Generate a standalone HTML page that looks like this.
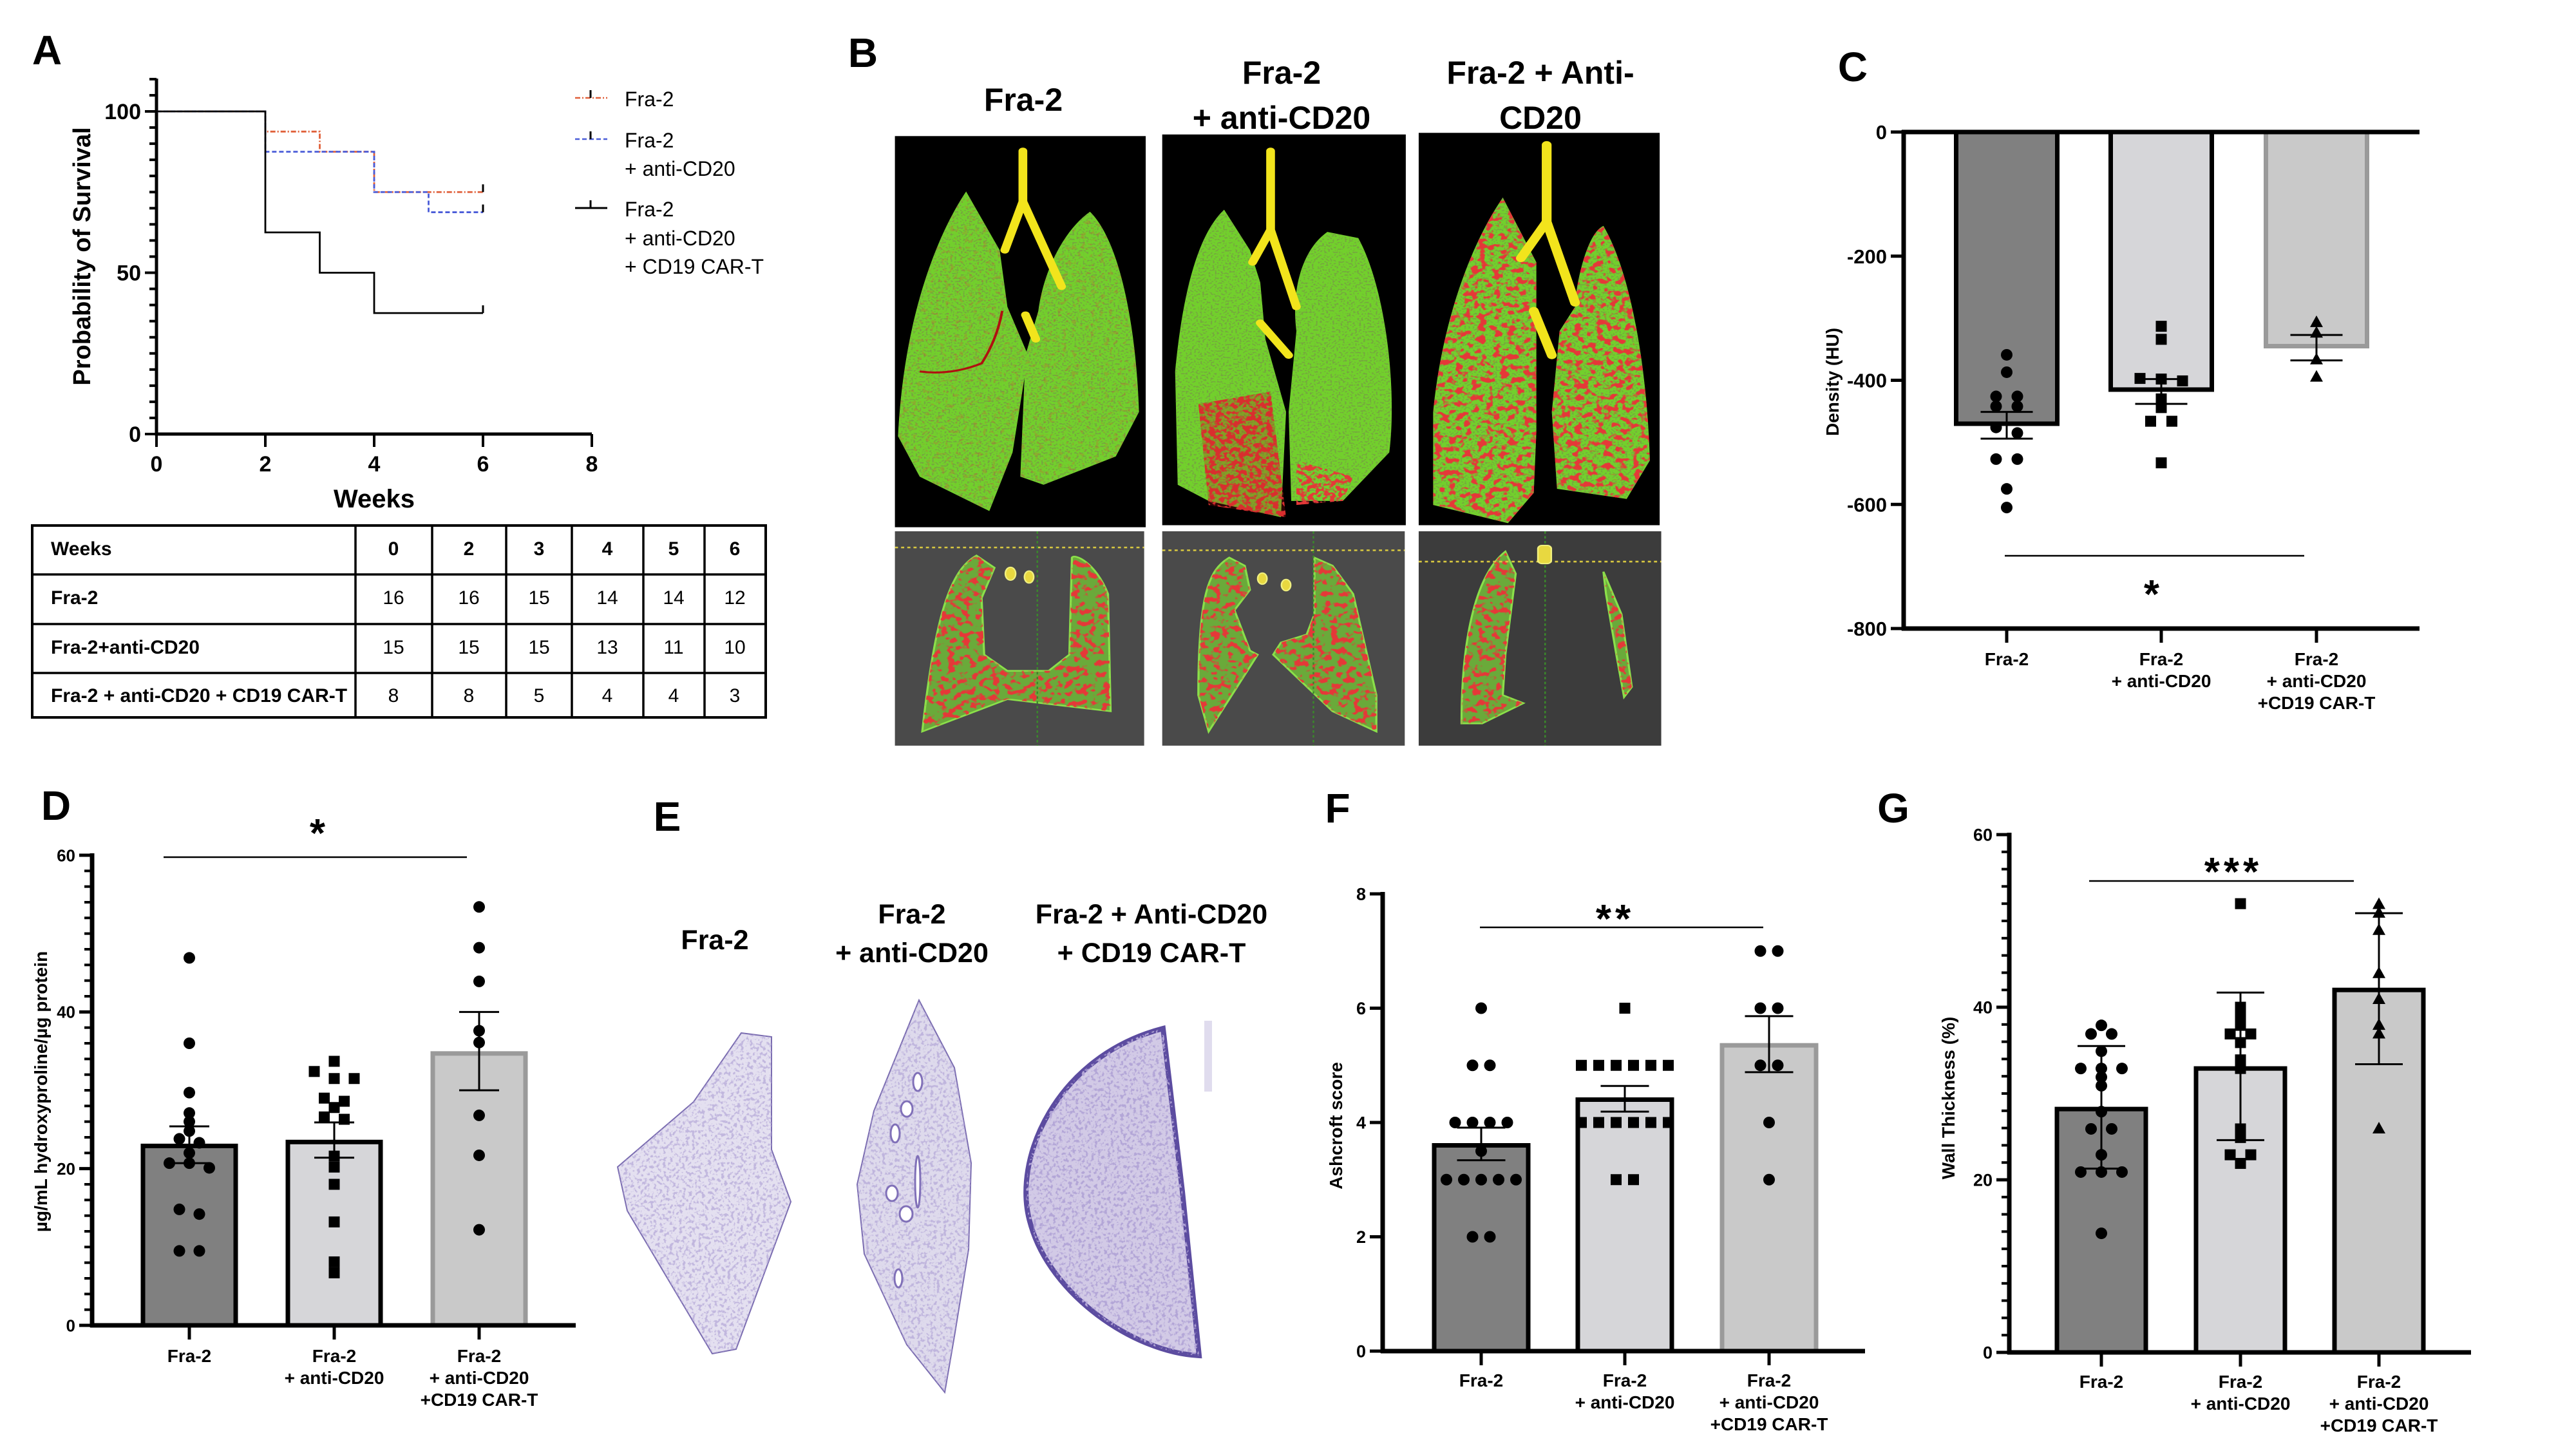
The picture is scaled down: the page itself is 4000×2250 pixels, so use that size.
<!DOCTYPE html>
<html><head><meta charset="utf-8">
<style>
html,body{margin:0;padding:0;background:#fff;}
svg{display:block;}
text{font-family:"Liberation Sans",sans-serif;}
.b{font-weight:bold;}
</style></head>
<body>
<svg id="fig" xmlns="http://www.w3.org/2000/svg" width="4000" height="2250" viewBox="0 0 4000 2250">
<defs>
<filter id="redspeck" x="-5%" y="-5%" width="110%" height="110%">
<feTurbulence type="fractalNoise" baseFrequency="0.11" numOctaves="2" seed="3" result="n"/>
<feColorMatrix in="n" type="matrix" values="0 0 0 0 0.78  0 0 0 0 0.04  0 0 0 0 0.04  9 0 0 0 -5.2" result="r"/>
<feComposite in="r" in2="SourceGraphic" operator="in"/>
</filter>
<filter id="redheavy" x="-5%" y="-5%" width="110%" height="110%">
<feTurbulence type="fractalNoise" baseFrequency="0.09" numOctaves="2" seed="7" result="n"/>
<feColorMatrix in="n" type="matrix" values="0 0 0 0 0.78  0 0 0 0 0.04  0 0 0 0 0.04  9 0 0 0 -4.1" result="r"/>
<feComposite in="r" in2="SourceGraphic" operator="in"/>
</filter>
<filter id="redmid" x="-5%" y="-5%" width="110%" height="110%">
<feTurbulence type="fractalNoise" baseFrequency="0.07" numOctaves="2" seed="11" result="n"/>
<feColorMatrix in="n" type="matrix" values="0 0 0 0 0.78  0 0 0 0 0.04  0 0 0 0 0.04  9 0 0 0 -4.6" result="r"/>
<feComposite in="r" in2="SourceGraphic" operator="in"/>
</filter>
<filter id="greenspeck" x="-5%" y="-5%" width="110%" height="110%">
<feTurbulence type="fractalNoise" baseFrequency="0.25" numOctaves="1" seed="5" result="n"/>
<feColorMatrix in="n" type="matrix" values="0 0 0 0 0.18  0 0 0 0 0.38  0 0 0 0 0.05  8 0 0 0 -4.2" result="r"/>
<feComposite in="r" in2="SourceGraphic" operator="in"/>
</filter>
<filter id="histo" x="-5%" y="-5%" width="110%" height="110%">
<feTurbulence type="fractalNoise" baseFrequency="0.2" numOctaves="2" seed="9" result="n"/>
<feColorMatrix in="n" type="matrix" values="0 0 0 0 0.45  0 0 0 0 0.38  0 0 0 0 0.68  7 0 0 0 -3.6" result="r"/>
<feComposite in="r" in2="SourceGraphic" operator="in"/>
</filter>
</defs>

<text x="73" y="100" font-size="64" class="b" text-anchor="middle">A</text>
<text x="1340" y="104" font-size="64" class="b" text-anchor="middle">B</text>
<text x="2877" y="126" font-size="64" class="b" text-anchor="middle">C</text>
<text x="87" y="1273" font-size="64" class="b" text-anchor="middle">D</text>
<text x="1036" y="1290" font-size="64" class="b" text-anchor="middle">E</text>
<text x="2077" y="1277" font-size="64" class="b" text-anchor="middle">F</text>
<text x="2940" y="1277" font-size="64" class="b" text-anchor="middle">G</text>

<text x="1589" y="172" font-size="50" class="b" text-anchor="middle">Fra-2</text>
<text x="1990" y="130" font-size="50" class="b" text-anchor="middle">Fra-2</text>
<text x="1990" y="200" font-size="50" class="b" text-anchor="middle">+ anti-CD20</text>
<text x="2392" y="130" font-size="50" class="b" text-anchor="middle">Fra-2 + Anti-</text>
<text x="2392" y="200" font-size="50" class="b" text-anchor="middle">CD20</text>

<g transform="translate(1380,200) scale(0.8013,0.6281)">
  <rect x="12" y="18" width="486" height="967" fill="#000"/>
  <rect x="530" y="14" width="472" height="966" fill="#000"/>
  <rect x="1027" y="10" width="467" height="970" fill="#000"/>
  <g>
    <path d="M150,155 C100,250 30,450 18,760 L60,860 L195,945 L240,800 L270,560 L230,440 L215,300 Z M390,205 C340,250 300,350 290,450 L265,560 L255,860 L300,880 L440,810 L485,700 C480,500 450,280 390,205 Z" fill="#72d02c"/>
    <path d="M150,155 C100,250 30,450 18,760 L60,860 L195,945 L240,800 L270,560 L230,440 L215,300 Z M390,205 C340,250 300,350 290,450 L265,560 L255,860 L300,880 L440,810 L485,700 C480,500 450,280 390,205 Z" fill="#000" filter="url(#greenspeck)"/>
    <path d="M150,155 C100,250 30,450 18,760 L60,860 L195,945 L240,800 L270,560 L230,440 L215,300 Z M390,205 C340,250 300,350 290,450 L265,560 L255,860 L300,880 L440,810 L485,700 C480,500 450,280 390,205 Z" fill="#000" filter="url(#redspeck)" opacity="0.22"/>
    <path d="M260,55 L260,180 L225,300 M260,180 L335,390 M265,460 L285,520" stroke="#f2e41c" stroke-width="17" fill="none" stroke-linecap="round"/>
    <path d="M60,600 Q120,610 180,580 Q210,520 220,450" stroke="#b01010" stroke-width="5" fill="none"/>
  </g>
  <g>
    <path d="M650,200 C600,260 570,400 555,600 L560,880 L620,920 L760,960 L770,700 L730,520 L720,380 L700,300 Z M850,255 C800,300 780,400 790,500 L775,700 L780,920 L880,920 L970,800 C985,650 965,400 910,270 Z" fill="#72d02c"/>
    <path d="M650,200 C600,260 570,400 555,600 L560,880 L620,920 L760,960 L770,700 L730,520 L720,380 L700,300 Z M850,255 C800,300 780,400 790,500 L775,700 L780,920 L880,920 L970,800 C985,650 965,400 910,270 Z" fill="#000" filter="url(#greenspeck)"/>
    <path d="M600,680 L740,650 L770,960 L620,930 Z M790,820 L900,860 L880,920 L790,930 Z" fill="#000" filter="url(#redheavy)"/>
    <path d="M600,680 L740,650 L770,960 L620,930 Z" fill="#b81010" opacity="0.25"/>
    <path d="M740,55 L740,250 L705,330 M740,250 L790,440 M720,480 L775,560" stroke="#f2e41c" stroke-width="17" fill="none" stroke-linecap="round"/>
  </g>
  <g>
    <path d="M1190,170 C1120,300 1070,500 1055,700 L1055,930 L1200,975 L1250,900 L1255,750 L1255,330 Z M1385,240 C1350,260 1330,400 1330,440 L1300,500 L1285,700 L1295,890 L1430,915 L1475,820 C1470,600 1440,360 1385,240 Z" fill="#72d02c"/>
    <path d="M1190,170 C1120,300 1070,500 1055,700 L1055,930 L1200,975 L1250,900 L1255,750 L1255,330 Z M1385,240 C1350,260 1330,400 1330,440 L1300,500 L1285,700 L1295,890 L1430,915 L1475,820 C1470,600 1440,360 1385,240 Z" fill="#000" filter="url(#greenspeck)"/>
    <path d="M1190,170 C1120,300 1070,500 1055,700 L1055,930 L1200,975 L1250,900 L1255,750 L1255,330 Z M1385,240 C1350,260 1330,400 1330,440 L1300,500 L1285,700 L1295,890 L1430,915 L1475,820 C1470,600 1440,360 1385,240 Z" fill="#000" filter="url(#redmid)"/>
    <path d="M1275,40 L1275,230 L1225,320 M1275,230 L1330,430 M1250,450 L1285,560" stroke="#f2e41c" stroke-width="19" fill="none" stroke-linecap="round"/>
  </g>
  <rect x="12" y="995" width="483" height="530" fill="#4a4a4a"/>
  <rect x="530" y="995" width="470" height="530" fill="#4a4a4a"/>
  <rect x="1027" y="995" width="470" height="530" fill="#3c3c3c"/>
  <g fill="#6aaa3a" stroke="#8be04a" stroke-width="4">
    <path d="M170,1055 C120,1090 90,1200 65,1490 L230,1410 L430,1440 L425,1150 C400,1070 360,1050 355,1060 L350,1300 L310,1340 L230,1340 L185,1300 L180,1160 L205,1085 Z"/>
    <path d="M660,1060 C620,1090 600,1150 600,1400 L620,1490 L715,1300 L700,1290 L670,1190 L700,1140 L690,1080 Z"/>
    <path d="M825,1060 L860,1080 L900,1150 L945,1400 L945,1490 L860,1440 L745,1300 L760,1270 L810,1250 L825,1200 Z"/>
    <path d="M1195,1045 C1140,1100 1110,1250 1110,1470 L1150,1470 L1230,1420 L1190,1400 L1195,1300 L1215,1100 Z"/>
    <path d="M1385,1095 L1420,1200 L1440,1380 L1425,1405 L1410,1300 L1390,1150 Z"/>
  </g>
  <g fill="#000" filter="url(#redmid)">
    <path d="M170,1055 C120,1090 90,1200 65,1490 L230,1410 L430,1440 L425,1150 C400,1070 360,1050 355,1060 L350,1300 L310,1340 L230,1340 L185,1300 L180,1160 L205,1085 Z"/>
    <path d="M660,1060 C620,1090 600,1150 600,1400 L620,1490 L715,1300 L700,1290 L670,1190 L700,1140 L690,1080 Z"/>
    <path d="M825,1060 L860,1080 L900,1150 L945,1400 L945,1490 L860,1440 L745,1300 L760,1270 L810,1250 L825,1200 Z"/>
    <path d="M1195,1045 C1140,1100 1110,1250 1110,1470 L1150,1470 L1230,1420 L1190,1400 L1195,1300 L1215,1100 Z"/>
    <path d="M1385,1095 L1420,1200 L1440,1380 L1425,1405 L1410,1300 L1390,1150 Z"/>
  </g>
  <g stroke="#d8c840" stroke-width="4" stroke-dasharray="6,6" fill="none">
    <line x1="12" y1="1035" x2="495" y2="1035"/>
    <line x1="530" y1="1042" x2="1000" y2="1042"/>
    <line x1="1027" y1="1070" x2="1497" y2="1070"/>
  </g>
  <g stroke="#3a8a2a" stroke-width="3" stroke-dasharray="6,6" fill="none">
    <line x1="288" y1="995" x2="288" y2="1525"/>
    <line x1="823" y1="995" x2="823" y2="1525"/>
    <line x1="1272" y1="995" x2="1272" y2="1525"/>
  </g>
  <g fill="#e8d840" stroke="#f0f080" stroke-width="3">
    <ellipse cx="236" cy="1100" rx="10" ry="16"/><ellipse cx="272" cy="1108" rx="9" ry="15"/>
    <ellipse cx="724" cy="1112" rx="9" ry="14"/><ellipse cx="770" cy="1128" rx="9" ry="14"/>
    <rect x="1258" y="1030" width="26" height="45" rx="8"/>
  </g>
</g>

<text x="1110" y="1474" font-size="43" class="b" text-anchor="middle">Fra-2</text>
<text x="1416" y="1434" font-size="43" class="b" text-anchor="middle">Fra-2</text>
<text x="1416" y="1494" font-size="43" class="b" text-anchor="middle">+ anti-CD20</text>
<text x="1788" y="1434" font-size="43" class="b" text-anchor="middle">Fra-2 + Anti-CD20</text>
<text x="1788" y="1494" font-size="43" class="b" text-anchor="middle">+ CD19 CAR-T</text>

<g>
  <path d="M959,1812 L1077,1711 L1151,1604 L1198,1610 L1198,1785 L1228,1866 L1143,2095 L1106,2102 L974,1880 Z" fill="#e4e0f0" stroke="#7a6cb0" stroke-width="2"/>
  <path d="M959,1812 L1077,1711 L1151,1604 L1198,1610 L1198,1785 L1228,1866 L1143,2095 L1106,2102 L974,1880 Z" fill="#000" filter="url(#histo)" opacity="0.7"/>
  <path d="M1427,1553 L1482,1658 L1508,1806 L1504,1940 L1482,2075 L1467,2162 L1408,2088 L1342,1947 L1331,1839 L1357,1725 Z" fill="#dedaec" stroke="#7a6cb0" stroke-width="2"/>
  <path d="M1427,1553 L1482,1658 L1508,1806 L1504,1940 L1482,2075 L1467,2162 L1408,2088 L1342,1947 L1331,1839 L1357,1725 Z" fill="#000" filter="url(#histo)" opacity="0.7"/>
  <g fill="#fff" stroke="#8070b8" stroke-width="3">
    <ellipse cx="1425" cy="1680" rx="7" ry="14"/><ellipse cx="1408" cy="1722" rx="9" ry="12"/>
    <ellipse cx="1390" cy="1760" rx="7" ry="14"/><ellipse cx="1385" cy="1853" rx="9" ry="12"/>
    <ellipse cx="1407" cy="1885" rx="10" ry="12"/><ellipse cx="1425" cy="1835" rx="4" ry="40"/>
    <ellipse cx="1395" cy="1985" rx="6" ry="14"/>
  </g>
  <path d="M1806,1597 C1640,1640 1570,1800 1600,1900 C1630,2010 1760,2100 1862,2105 L1836,1850 Z" fill="#d2cae6" stroke="#5c4ca0" stroke-width="8"/>
  <path d="M1806,1597 C1640,1640 1570,1800 1600,1900 C1630,2010 1760,2100 1862,2105 L1836,1850 Z" fill="#000" filter="url(#histo)"/>
  <rect x="1870" y="1585" width="12" height="110" fill="#e0dcee"/>
</g>

<g font-size="30">
  <rect x="50" y="816" width="1139" height="298" fill="none" stroke="#000" stroke-width="4"/>
  <g stroke="#000" stroke-width="3.5">
    <line x1="50" y1="892" x2="1189" y2="892"/><line x1="50" y1="969" x2="1189" y2="969"/><line x1="50" y1="1045" x2="1189" y2="1045"/>
    <line x1="552" y1="816" x2="552" y2="1114"/><line x1="671" y1="816" x2="671" y2="1114"/><line x1="786" y1="816" x2="786" y2="1114"/>
    <line x1="888" y1="816" x2="888" y2="1114"/><line x1="999" y1="816" x2="999" y2="1114"/><line x1="1094" y1="816" x2="1094" y2="1114"/>
  </g>
  <text x="79" y="862" class="b">Weeks</text>
  <text x="79" y="938" class="b">Fra-2</text>
  <text x="79" y="1015" class="b">Fra-2+anti-CD20</text>
  <text x="79" y="1090" class="b">Fra-2 + anti-CD20 + CD19 CAR-T</text>
  <g class="b" text-anchor="middle">
    <text x="611" y="862">0</text><text x="728" y="862">2</text><text x="837" y="862">3</text><text x="943" y="862">4</text><text x="1046" y="862">5</text><text x="1141" y="862">6</text>
  </g>
  <g text-anchor="middle">
    <text x="611" y="938">16</text><text x="728" y="938">16</text><text x="837" y="938">15</text><text x="943" y="938">14</text><text x="1046" y="938">14</text><text x="1141" y="938">12</text>
    <text x="611" y="1015">15</text><text x="728" y="1015">15</text><text x="837" y="1015">15</text><text x="943" y="1015">13</text><text x="1046" y="1015">11</text><text x="1141" y="1015">10</text>
    <text x="611" y="1090">8</text><text x="728" y="1090">8</text><text x="837" y="1090">5</text><text x="943" y="1090">4</text><text x="1046" y="1090">4</text><text x="1141" y="1090">3</text>
  </g>
</g>

<g font-size="32">
  <g>
    <line x1="893" y1="152" x2="943" y2="152" stroke="#e0603a" stroke-width="2.5" stroke-dasharray="8,3,2,3"/>
    <line x1="917" y1="140" x2="917" y2="152" stroke="#000" stroke-width="3"/>
    <text x="970" y="165">Fra-2</text>
  </g>
  <g>
    <line x1="893" y1="216" x2="943" y2="216" stroke="#4a5cd8" stroke-width="2.5" stroke-dasharray="7,4"/>
    <line x1="917" y1="204" x2="917" y2="216" stroke="#000" stroke-width="3"/>
    <text x="970" y="229">Fra-2</text><text x="970" y="273">+ anti-CD20</text>
  </g>
  <g>
    <line x1="893" y1="323" x2="943" y2="323" stroke="#000" stroke-width="3"/>
    <line x1="917" y1="311" x2="917" y2="323" stroke="#000" stroke-width="3"/>
    <text x="970" y="336">Fra-2</text><text x="970" y="381">+ anti-CD20</text><text x="970" y="425">+ CD19 CAR-T</text>
  </g>
</g>

<g id="chartA"></g>
<g id="chartC"></g>
<g id="chartD"></g>
<g id="chartF"></g>
<g id="chartG"></g>
</svg>

<script>
const survTimesFra2 = [0, 2, 3, 4, 6];
const survProbFra2  = [100, 93.75, 87.5, 75, 75];
const survTimesAnti = [0, 2, 4, 5, 6];
const survProbAnti  = [100, 87.5, 75, 68.75, 68.75];
const survTimesCar  = [0, 2, 3, 4, 6];
const survProbCar   = [100, 62.5, 50, 37.5, 37.5];
const survXTicks = [0, 2, 4, 6, 8];
const survYTicks = [0, 50, 100];

const cCategories = [["Fra-2"], ["Fra-2", "+ anti-CD20"], ["Fra-2", "+ anti-CD20", "+CD19 CAR-T"]];
const cMeans = [-470, -415, -345];
const cErrLow = [-494, -438, -368];
const cErrHigh = [-451, -398, -327];
const cPtsFra2 = [-359, -387, -426, -426, -442, -442, -476, -485, -527, -527, -575, -605];
const cPtsAnti = [-313, -334, -397, -401, -398, -430, -444, -466, -466, -533];
const cPtsCar = [-307, -324, -367, -395];
const cTicks = [0, -200, -400, -600, -800];

const dCategories = [["Fra-2"], ["Fra-2", "+ anti-CD20"], ["Fra-2", "+ anti-CD20", "+CD19 CAR-T"]];
const dMeans = [22.9, 23.4, 34.7];
const dErrLow = [20.7, 21.4, 30.0];
const dErrHigh = [25.4, 25.9, 40.0];
const dPtsFra2 = [46.9, 36.0, 29.7, 27.1, 26.0, 24.8, 23.8, 23.3, 22.0, 20.7, 20.7, 20.1, 14.8, 14.2, 9.5, 9.5];
const dPtsAnti = [33.7, 32.4, 31.5, 31.5, 29.0, 28.6, 27.8, 26.6, 26.3, 21.6, 20.2, 18.0, 13.2, 8.1, 6.7];
const dPtsCar = [53.4, 48.2, 43.9, 37.6, 36.1, 26.8, 21.7, 12.2];
const dTicks = [0, 20, 40, 60];

const fCategories = [["Fra-2"], ["Fra-2", "+ anti-CD20"], ["Fra-2", "+ anti-CD20", "+CD19 CAR-T"]];
const fMeans = [3.6, 4.4, 5.35];
const fErrLow = [3.34, 4.19, 4.88];
const fErrHigh = [3.91, 4.64, 5.86];
const fPtsFra2 = [6, 5, 5, 4, 4, 4, 4, 3.5, 3, 3, 3, 3, 3, 2, 2];
const fPtsAnti = [6, 5, 5, 5, 5, 5, 5, 4, 4, 4, 4, 4, 4, 3, 3];
const fPtsCar = [7, 7, 6, 6, 5, 5, 4, 3];
const fTicks = [0, 2, 4, 6, 8];

const gCategories = [["Fra-2"], ["Fra-2", "+ anti-CD20"], ["Fra-2", "+ anti-CD20", "+CD19 CAR-T"]];
const gMeans = [28.2, 32.9, 42.0];
const gErrLow = [21.3, 24.6, 33.4];
const gErrHigh = [35.5, 41.7, 50.9];
const gPtsFra2 = [37.9, 36.9, 36.9, 34.9, 32.9, 32.9, 32.9, 31.9, 30.9, 27.9, 25.9, 25.9, 22.9, 20.9, 20.9, 20.9, 13.8];
const gPtsAnti = [52.0, 40.0, 39.0, 37.9, 36.9, 36.9, 35.9, 33.9, 32.9, 25.9, 24.9, 22.9, 22.9, 21.9];
const gPtsCar = [51.9, 50.9, 48.9, 43.9, 40.9, 37.9, 36.9, 25.9];
const gTicks = [0, 20, 40, 60];

const NS = "http://www.w3.org/2000/svg";
function mk(tag, attrs, parent) {
  const e = document.createElementNS(NS, tag);
  for (const k in attrs) e.setAttribute(k, attrs[k]);
  parent.appendChild(e);
  return e;
}

(function () {
  const g = document.getElementById("chartA");
  const X0 = 243, X1 = 919, Y0 = 674, Y100 = 173, YTOP = 122;
  const sx = t => X0 + t * (X1 - X0) / 8;
  const sy = p => Y0 - p * (Y0 - Y100) / 100;
  const ax = mk("path", { d: `M${X0},${YTOP} L${X0},${Y0} L${X1},${Y0}`, stroke: "#000", "stroke-width": 5, fill: "none" }, g);
  
  
  for (let v = 0; v <= 110; v += 5) {
    const major = v % 50 === 0;
    const tk = mk("line", { x1: X0 - (major ? 18 : 11), x2: X0, y1: sy(v), y2: sy(v), stroke: "#000", "stroke-width": 4 }, g);
    
    
  }
  survYTicks.forEach(v => {
    const t = mk("text", { x: X0 - 24, y: sy(v) + 12, "text-anchor": "end", "font-size": 34, "font-weight": "bold" }, g);
    t.textContent = v;
    
    
  });
  survXTicks.forEach(v => {
    const tk = mk("line", { x1: sx(v), x2: sx(v), y1: Y0, y2: Y0 + 20, stroke: "#000", "stroke-width": 4 }, g);
    
    
    const t = mk("text", { x: sx(v), y: Y0 + 58, "text-anchor": "middle", "font-size": 34, "font-weight": "bold" }, g);
    t.textContent = v;
    
    
  });
  const xt = mk("text", { x: 581, y: 788, "text-anchor": "middle", "font-size": 40, "font-weight": "bold" }, g);
  xt.textContent = "Weeks";
  
  
  const yt = mk("text", { x: 0, y: 0, "text-anchor": "middle", "font-size": 38, "font-weight": "bold", transform: `translate(${140},${398}) rotate(-90)` }, g);
  yt.textContent = "Probability of Survival";
  
  

  const series = [
    [survTimesFra2, survProbFra2, "#e0603a", "8,3,2,3", "survival-curve-fra2"],
    [survTimesAnti, survProbAnti, "#4a5cd8", "7,4", "survival-curve-anti-cd20"],
    [survTimesCar, survProbCar, "#000", "none", "survival-curve-cart"]
  ];
  series.forEach(([ts, ps, col, dash, name]) => {
    let d = `M${sx(ts[0])},${sy(ps[0])}`;
    for (let i = 1; i < ts.length; i++) d += ` L${sx(ts[i])},${sy(ps[i - 1])} L${sx(ts[i])},${sy(ps[i])}`;
    const p = mk("path", { d: d, stroke: col, "stroke-width": 2.8, fill: "none", "stroke-dasharray": dash }, g);
    
    
    const last = ts.length - 1;
    const c = mk("line", { x1: sx(ts[last]), x2: sx(ts[last]), y1: sy(ps[last]), y2: sy(ps[last]) - 12, stroke: "#000", "stroke-width": 3 }, g);
    
    
  });
})();

function layoutPoints(vals, yFn, spacing) {
  const idx = vals.map((v, i) => i).sort((a, b) => yFn(vals[a]) - yFn(vals[b]));
  const rows = [];
  idx.forEach(i => {
    const y = yFn(vals[i]);
    let row = rows.find(r => Math.abs(r.y - y) < 12);
    if (!row) { row = { y: y, items: [] }; rows.push(row); }
    row.items.push(i);
  });
  const out = [];
  rows.forEach(r => r.items.forEach((i, k) => {
    out.push([(k - (r.items.length - 1) / 2) * spacing, yFn(vals[i])]);
  }));
  return out;
}

function barChart(g, cfg, cats, means, lo, hi, pts, ticks) {
  const sy = v => cfg.yA + (v - cfg.vA) * (cfg.yB - cfg.yA) / (cfg.vB - cfg.vA);
  const base = sy(0);
  means.forEach((m, i) => {
    const y1 = Math.min(base, sy(m)), y2 = Math.max(base, sy(m));
    const r = mk("rect", { x: cfg.cx[i] - cfg.bw / 2, y: y1, width: cfg.bw, height: y2 - y1, fill: cfg.fills[i], stroke: cfg.strokes[i], "stroke-width": 7 }, g);
    
    
  });
  pts.forEach((vals, i) => {
    const lay = layoutPoints(vals, sy, cfg.spacing);
    lay.forEach(([dx, y]) => {
      const x = cfg.cx[i] + dx;
      let p;
      if (cfg.markers[i] === "circle") p = mk("circle", { cx: x, cy: y, r: 9, fill: "#000" }, g);
      else if (cfg.markers[i] === "square") p = mk("rect", { x: x - 8.5, y: y - 8.5, width: 17, height: 17, fill: "#000" }, g);
      else p = mk("path", { d: `M${x},${y - 11} L${x + 10},${y + 7} L${x - 10},${y + 7} Z`, fill: "#000" }, g);
      
      
    });
  });
  means.forEach((m, i) => {
    const x = cfg.cx[i];
    const e = mk("path", { d: `M${x},${sy(lo[i])} L${x},${sy(hi[i])} M${x - cfg.cap / 2},${sy(lo[i])} L${x + cfg.cap / 2},${sy(lo[i])} M${x - cfg.cap / 2},${sy(hi[i])} L${x + cfg.cap / 2},${sy(hi[i])}`, stroke: "#000", "stroke-width": 3, fill: "none" }, g);
    
    
  });
  const yTop = Math.min(sy(cfg.vA), sy(cfg.vB)), yBot = Math.max(sy(cfg.vA), sy(cfg.vB));
  const ya = mk("line", { x1: cfg.ax, x2: cfg.ax, y1: yTop - 3, y2: yBot + 3, stroke: "#000", "stroke-width": 7 }, g);
  
  
  cfg.hLines.forEach(v => {
    const xa = mk("line", { x1: cfg.ax - 3, x2: cfg.right, y1: sy(v), y2: sy(v), stroke: "#000", "stroke-width": 7 }, g);
    
    
  });
  if (cfg.minor) {
    for (let v = Math.min(cfg.vA, cfg.vB); v <= Math.max(cfg.vA, cfg.vB); v += cfg.minor) {
      const tk = mk("line", { x1: cfg.ax - 12, x2: cfg.ax, y1: sy(v), y2: sy(v), stroke: "#000", "stroke-width": 4 }, g);
      
      
    }
  }
  ticks.forEach(v => {
    const tk = mk("line", { x1: cfg.ax - 20, x2: cfg.ax, y1: sy(v), y2: sy(v), stroke: "#000", "stroke-width": 5 }, g);
    
    
    const t = mk("text", { x: cfg.ax - 26, y: sy(v) + cfg.tfs * 0.36, "text-anchor": "end", "font-size": cfg.tfs, "font-weight": "bold" }, g);
    t.textContent = v;
    
    
  });
  const catY = yBot;
  cats.forEach((lines, i) => {
    const tk = mk("line", { x1: cfg.cx[i], x2: cfg.cx[i], y1: catY, y2: catY + 22, stroke: "#000", "stroke-width": 5 }, g);
    
    
    lines.forEach((ln, k) => {
      const t = mk("text", { x: cfg.cx[i], y: cfg.catY0 + k * 34, "text-anchor": "middle", "font-size": cfg.cfs, "font-weight": "bold" }, g);
      t.textContent = ln;
      
      
    });
  });
  const yt = mk("text", { x: 0, y: 0, "text-anchor": "middle", "font-size": cfg.yfs, "font-weight": "bold", transform: `translate(${cfg.ytx},${cfg.yty}) rotate(-90)` }, g);
  yt.textContent = cfg.ytitle;
  
  
  const sl = mk("line", { x1: cfg.sig[0], x2: cfg.sig[1], y1: cfg.sig[2], y2: cfg.sig[2], stroke: "#000", "stroke-width": 2.5 }, g);
  
  
  const st = mk("text", { x: cfg.star[0], y: cfg.star[1] + 34, "text-anchor": "middle", "font-size": 62, "font-weight": "bold", "letter-spacing": 6 }, g);
  st.textContent = cfg.star[2];
  
  
}

barChart(document.getElementById("chartC"), {
  vA: 0, yA: 205, vB: -800, yB: 976, ax: 2956, right: 3757, cx: [3116, 3356, 3597], bw: 157, cap: 81,
  fills: ["#808080", "#d6d6d9", "#c9c9c9"], strokes: ["#000", "#000", "#9a9a9a"], markers: ["circle", "square", "triangle"],
  spacing: 33, hLines: [0, -800], minor: 0, tfs: 31, cfs: 28, catY0: 1033, yfs: 28, ytx: 2855, yty: 593,
  ytitle: "Density (HU)", sig: [3113, 3578, 863], star: [3344, 910, "*"]
}, cCategories, cMeans, cErrLow, cErrHigh, [cPtsFra2, cPtsAnti, cPtsCar], cTicks);

barChart(document.getElementById("chartD"), {
  vA: 0, yA: 2058, vB: 60, yB: 1328, ax: 143, right: 894, cx: [294, 519, 744], bw: 144, cap: 62,
  fills: ["#808080", "#d6d6d9", "#c9c9c9"], strokes: ["#000", "#000", "#9a9a9a"], markers: ["circle", "square", "circle"],
  spacing: 31, hLines: [0], minor: 2, tfs: 26, cfs: 28, catY0: 2115, yfs: 28, ytx: 73, yty: 1695,
  ytitle: "µg/mL hydroxyproline/µg protein", sig: [254, 725, 1331], star: [496, 1281, "*"]
}, dCategories, dMeans, dErrLow, dErrHigh, [dPtsFra2, dPtsAnti, dPtsCar], dTicks);

barChart(document.getElementById("chartF"), {
  vA: 0, yA: 2098, vB: 8, yB: 1388, ax: 2147, right: 2896, cx: [2300, 2523, 2747], bw: 146, cap: 75,
  fills: ["#808080", "#d6d6d9", "#c9c9c9"], strokes: ["#000", "#000", "#9a9a9a"], markers: ["circle", "square", "circle"],
  spacing: 27, hLines: [0], minor: 0, tfs: 27, cfs: 28, catY0: 2153, yfs: 28, ytx: 2084, yty: 1748,
  ytitle: "Ashcroft score", sig: [2298, 2738, 1440], star: [2508, 1414, "**"]
}, fCategories, fMeans, fErrLow, fErrHigh, [fPtsFra2, fPtsAnti, fPtsCar], fTicks);

barChart(document.getElementById("chartG"), {
  vA: 0, yA: 2100, vB: 60, yB: 1296, ax: 3120, right: 3837, cx: [3263, 3479, 3694], bw: 138, cap: 74,
  fills: ["#808080", "#d6d6d9", "#c9c9c9"], strokes: ["#000", "#000", "#000"], markers: ["circle", "square", "triangle"],
  spacing: 32, hLines: [0], minor: 2, tfs: 27, cfs: 28, catY0: 2155, yfs: 28, ytx: 3035, yty: 1705,
  ytitle: "Wall Thickness (%)", sig: [3244, 3655, 1368], star: [3468, 1341, "***"]
}, gCategories, gMeans, gErrLow, gErrHigh, [gPtsFra2, gPtsAnti, gPtsCar], gTicks);
</script>
</body></html>
